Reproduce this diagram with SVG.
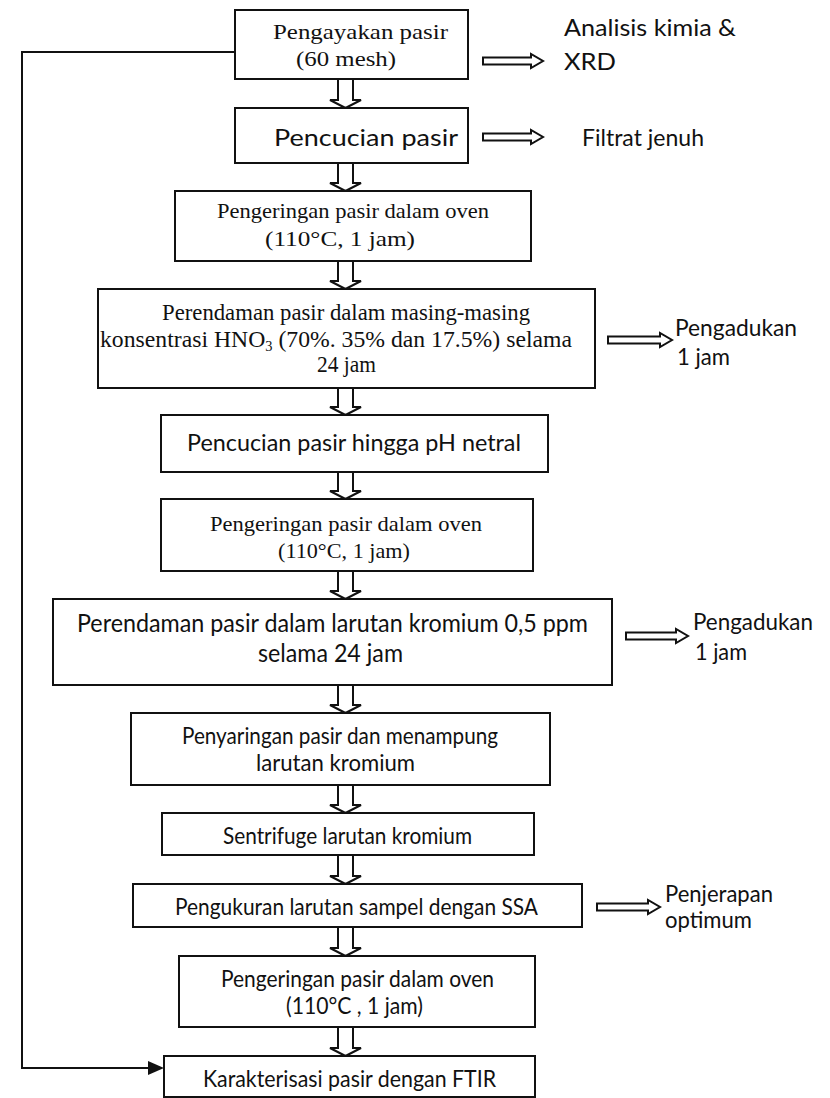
<svg xmlns="http://www.w3.org/2000/svg" width="830" height="1098" viewBox="0 0 830 1098">
<style>
.box{fill:#fff;stroke:#111;stroke-width:2}
.arr{fill:#fff;stroke:#111;stroke-width:2;stroke-linejoin:miter}
.line{fill:none;stroke:#111;stroke-width:2}
.serif{font-family:"Liberation Serif","Times New Roman",serif;fill:#111;font-size:22px}
.sans{font-family:Lato,"Open Sans","Liberation Sans",sans-serif;fill:#111;font-size:22px}
.lab{font-size:23px}
</style>
<rect width="830" height="1098" fill="#fff"/>

<g id="connectors">
  <polyline class="line" points="235,52 22,52 22,1068 150,1068"/>
  <polygon points="148,1061 164,1068 148,1075" fill="#111"/>
  <path class="arr" d="M338,79 V100 H330 L345.5,108 L361,100 H353 V79"/>
  <path class="arr" d="M338,163 V183 H330 L345.5,191 L361,183 H353 V163"/>
  <path class="arr" d="M338,261 V281 H330 L345.5,289 L361,281 H353 V261"/>
  <path class="arr" d="M338,388 V407 H330 L345.5,415 L361,407 H353 V388"/>
  <path class="arr" d="M338,472 V491 H330 L345.5,499 L361,491 H353 V472"/>
  <path class="arr" d="M338,571 V591 H330 L345.5,599 L361,591 H353 V571"/>
  <path class="arr" d="M338,685 V705 H330 L345.5,713 L361,705 H353 V685"/>
  <path class="arr" d="M338,785 V805 H330 L345.5,813 L361,805 H353 V785"/>
  <path class="arr" d="M338,855 V876 H330 L345.5,884 L361,876 H353 V855"/>
  <path class="arr" d="M338,927 V948 H330 L345.5,956 L361,948 H353 V927"/>
  <path class="arr" d="M338,1027 V1048 H330 L345.5,1056 L361,1048 H353 V1027"/>
  <path class="arr" d="M483,57.5 H531 V54 L543,61 L531,68 V64.5 H483 Z"/>
  <path class="arr" d="M483,133.5 H531 V130 L543,137 L531,144 V140.5 H483 Z"/>
  <path class="arr" d="M608,336.5 H660 V333 L672,340 L660,347 V343.5 H608 Z"/>
  <path class="arr" d="M626,632.5 H676 V629 L688,636 L676,643 V639.5 H626 Z"/>
  <path class="arr" d="M597,903.5 H648 V900 L660,907 L648,914 V910.5 H597 Z"/>
</g>

<g id="n1">
  <rect class="box" x="235" y="10" width="233" height="69"/>
  <text class="serif" x="273" y="39" textLength="175" lengthAdjust="spacingAndGlyphs">Pengayakan pasir</text>
  <text class="serif" x="296" y="66" textLength="100" lengthAdjust="spacingAndGlyphs">(60 mesh)</text>
</g>
<g id="out1">
  <text class="sans lab" x="564" y="36" textLength="172" lengthAdjust="spacingAndGlyphs">Analisis kimia &amp;</text>
  <text class="sans lab" x="564" y="70" textLength="52" lengthAdjust="spacingAndGlyphs">XRD</text>
</g>

<g id="n2">
  <rect class="box" x="235" y="108" width="233" height="55"/>
  <text class="sans" x="274" y="146" textLength="184" lengthAdjust="spacingAndGlyphs" style="font-size:24px">Pencucian pasir</text>
</g>
<g id="out2">
  <text class="sans lab" x="582" y="146" textLength="122" lengthAdjust="spacingAndGlyphs">Filtrat jenuh</text>
</g>

<g id="n3">
  <rect class="box" x="175" y="191" width="356" height="70"/>
  <text class="serif" x="217" y="218" textLength="272" lengthAdjust="spacingAndGlyphs">Pengeringan pasir dalam oven</text>
  <text class="serif" x="265" y="246" textLength="150" lengthAdjust="spacingAndGlyphs">(110°C, 1 jam)</text>
</g>

<g id="n4">
  <rect class="box" x="98" y="289" width="497" height="99"/>
  <text class="serif" x="162" y="320" textLength="368" lengthAdjust="spacingAndGlyphs" style="font-size:23px">Perendaman pasir dalam masing-masing</text>
  <text class="serif" x="100" y="347" textLength="472" lengthAdjust="spacingAndGlyphs" style="font-size:23px">konsentrasi HNO<tspan style="font-size:14px" dy="4">3</tspan><tspan dy="-4"> (70%. 35% dan 17.5%) selama</tspan></text>
  <text class="serif" x="317" y="372" textLength="59" lengthAdjust="spacingAndGlyphs" style="font-size:23px">24 jam</text>
</g>
<g id="out4">
  <text class="sans lab" x="675" y="336" textLength="122" lengthAdjust="spacingAndGlyphs">Pengadukan</text>
  <text class="sans lab" x="677" y="365" textLength="53" lengthAdjust="spacingAndGlyphs">1 jam</text>
</g>

<g id="n5">
  <rect class="box" x="161" y="415" width="387" height="57"/>
  <text class="sans" x="187" y="451" textLength="334" lengthAdjust="spacingAndGlyphs" style="font-size:23px">Pencucian pasir hingga pH netral</text>
</g>

<g id="n6">
  <rect class="box" x="161" y="499" width="372" height="72"/>
  <text class="serif" x="210" y="531" textLength="272" lengthAdjust="spacingAndGlyphs">Pengeringan pasir dalam oven</text>
  <text class="serif" x="278" y="558" textLength="132" lengthAdjust="spacingAndGlyphs">(110°C, 1 jam)</text>
</g>

<g id="n7">
  <rect class="box" x="53" y="599" width="559" height="86"/>
  <text class="sans" x="77" y="632" textLength="511" lengthAdjust="spacingAndGlyphs" style="font-size:25px">Perendaman pasir dalam larutan kromium 0,5 ppm</text>
  <text class="sans" x="258" y="662" textLength="145" lengthAdjust="spacingAndGlyphs" style="font-size:25px">selama 24 jam</text>
</g>
<g id="out7">
  <text class="sans lab" x="693" y="630" textLength="120" lengthAdjust="spacingAndGlyphs">Pengadukan</text>
  <text class="sans lab" x="695" y="660" textLength="52" lengthAdjust="spacingAndGlyphs">1 jam</text>
</g>

<g id="n8">
  <rect class="box" x="131" y="713" width="419" height="72"/>
  <text class="sans" x="182" y="744" textLength="316" lengthAdjust="spacingAndGlyphs" style="font-size:23px">Penyaringan pasir dan menampung</text>
  <text class="sans" x="256" y="771" textLength="159" lengthAdjust="spacingAndGlyphs" style="font-size:23px">larutan kromium</text>
</g>

<g id="n9">
  <rect class="box" x="162" y="813" width="372" height="42"/>
  <text class="sans" x="223" y="844" textLength="249" lengthAdjust="spacingAndGlyphs" style="font-size:23px">Sentrifuge larutan kromium</text>
</g>

<g id="n10">
  <rect class="box" x="133" y="884" width="449" height="43"/>
  <text class="sans" x="175" y="915" textLength="363" lengthAdjust="spacingAndGlyphs" style="font-size:23px">Pengukuran larutan sampel dengan SSA</text>
</g>
<g id="out10">
  <text class="sans lab" x="665" y="902" textLength="108" lengthAdjust="spacingAndGlyphs">Penjerapan</text>
  <text class="sans lab" x="665" y="928" textLength="87" lengthAdjust="spacingAndGlyphs">optimum</text>
</g>

<g id="n11">
  <rect class="box" x="179" y="956" width="356" height="71"/>
  <text class="sans" x="221" y="987" textLength="273" lengthAdjust="spacingAndGlyphs" style="font-size:23px">Pengeringan pasir dalam oven</text>
  <text class="sans" x="286" y="1014" textLength="137" lengthAdjust="spacingAndGlyphs" style="font-size:23px">(110°C , 1 jam)</text>
</g>

<g id="n12">
  <rect class="box" x="164" y="1056" width="371" height="41"/>
  <text class="sans" x="203" y="1087" textLength="293" lengthAdjust="spacingAndGlyphs" style="font-size:23px">Karakterisasi pasir dengan FTIR</text>
</g>
</svg>
